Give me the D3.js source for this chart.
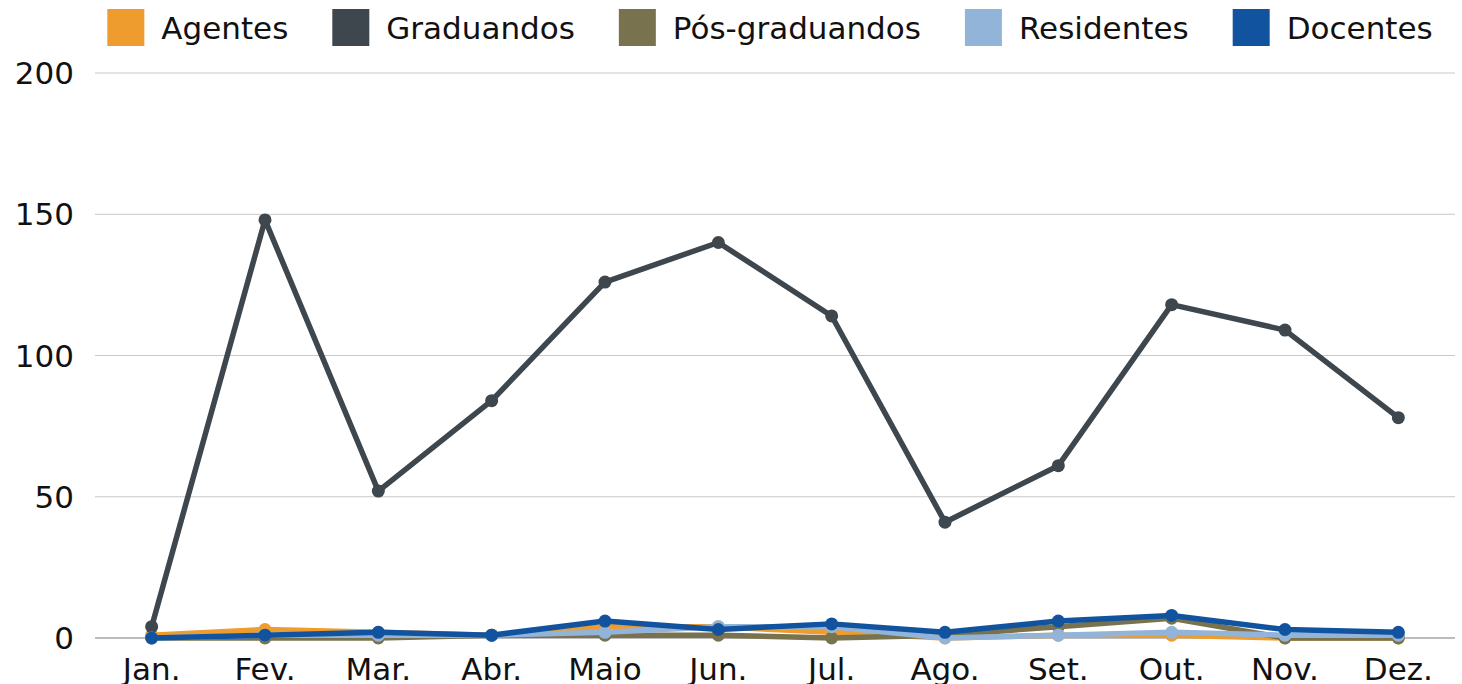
<!DOCTYPE html>
<html><head><meta charset="utf-8">
<script src="https://cdn.jsdelivr.net/npm/d3@7"></script>
<style>html,body{margin:0;padding:0;background:#fff;overflow:hidden}</style>
</head><body><svg id="c" width="1462" height="684"></svg>
<script>
const months = ["Jan.","Fev.","Mar.","Abr.","Maio","Jun.","Jul.","Ago.","Set.","Out.","Nov.","Dez."];
const seriesNames = ["Agentes","Graduandos","Pós-graduandos","Residentes","Docentes"];
const seriesColors = ["#EF9C2E","#3E464E","#78734E","#93B4D9","#1253A0"];
const agentes =       [1,3,2,1,4,4,2,0,1,1,0,0];
const graduandos =    [4,148,52,84,126,140,114,41,61,118,109,78];
const posGraduandos = [0,0,0,1,1,1,0,1,4,7,0,0];
const residentes =    [0,1,1,1,2,4,4,0,1,2,1,1];
const docentes =      [0,1,2,1,6,3,5,2,6,8,3,2];
const yTicks = [0,50,100,150,200];

(function(){
const values = [agentes, graduandos, posGraduandos, residentes, docentes];
const FONT = "'DejaVu Sans', sans-serif";
const FS = 31;
const svg = d3.select("#c");
const mL = 95, mR = 1455, mT = 73, mB = 638;
const x = d3.scaleBand().domain(months).range([mL, mR]);
const y = d3.scaleLinear().domain([0, 200]).range([mB, mT]);

svg.append("g").selectAll("line").data(yTicks).join("line")
  .attr("x1", mL).attr("x2", mR)
  .attr("y1", d => y(d)).attr("y2", d => y(d))
  .attr("stroke", d => d === 0 ? "#7a7a7a" : "#c8c8c8").attr("stroke-width", 1);

svg.append("g").selectAll("text").data(yTicks).join("text")
  .attr("x", 74).attr("y", d => y(d)).attr("dy", "0.36em")
  .attr("text-anchor", "end").attr("font-family", FONT).attr("font-size", FS)
  .attr("fill", "#111").text(d => d);

svg.append("g").selectAll("text").data(months).join("text")
  .attr("x", d => x(d) + x.bandwidth() / 2).attr("y", 680)
  .attr("text-anchor", "middle").attr("font-family", FONT).attr("font-size", FS)
  .attr("fill", "#111").text(d => d);

const line = d3.line().x((d, i) => x(months[i]) + x.bandwidth() / 2).y(d => y(d));
values.forEach((vals, s) => {
  const g = svg.append("g");
  g.append("path").attr("d", line(vals)).attr("fill", "none")
    .attr("stroke", seriesColors[s]).attr("stroke-width", 5.5).attr("stroke-linejoin", "round");
  g.selectAll("circle").data(vals).join("circle")
    .attr("cx", (d, i) => x(months[i]) + x.bandwidth() / 2).attr("cy", d => y(d))
    .attr("r", 6.5).attr("fill", seriesColors[s]);
});

const leg = svg.append("g");
const items = seriesNames.map((n, i) => {
  const gi = leg.append("g");
  gi.append("rect").attr("width", 37).attr("height", 37).attr("y", 9).attr("fill", seriesColors[i]);
  const t = gi.append("text").attr("x", 54).attr("y", 27.5).attr("dy", "0.36em")
    .attr("font-family", FONT).attr("font-size", FS).attr("fill", "#111").text(n);
  return {gi, w: 54 + t.node().getComputedTextLength()};
});
const gap = 44;
const total = d3.sum(items, d => d.w) + gap * (items.length - 1);
let cx = 770 - total / 2;
items.forEach(it => { it.gi.attr("transform", `translate(${cx},0)`); cx += it.w + gap; });
})();
</script></body></html>
